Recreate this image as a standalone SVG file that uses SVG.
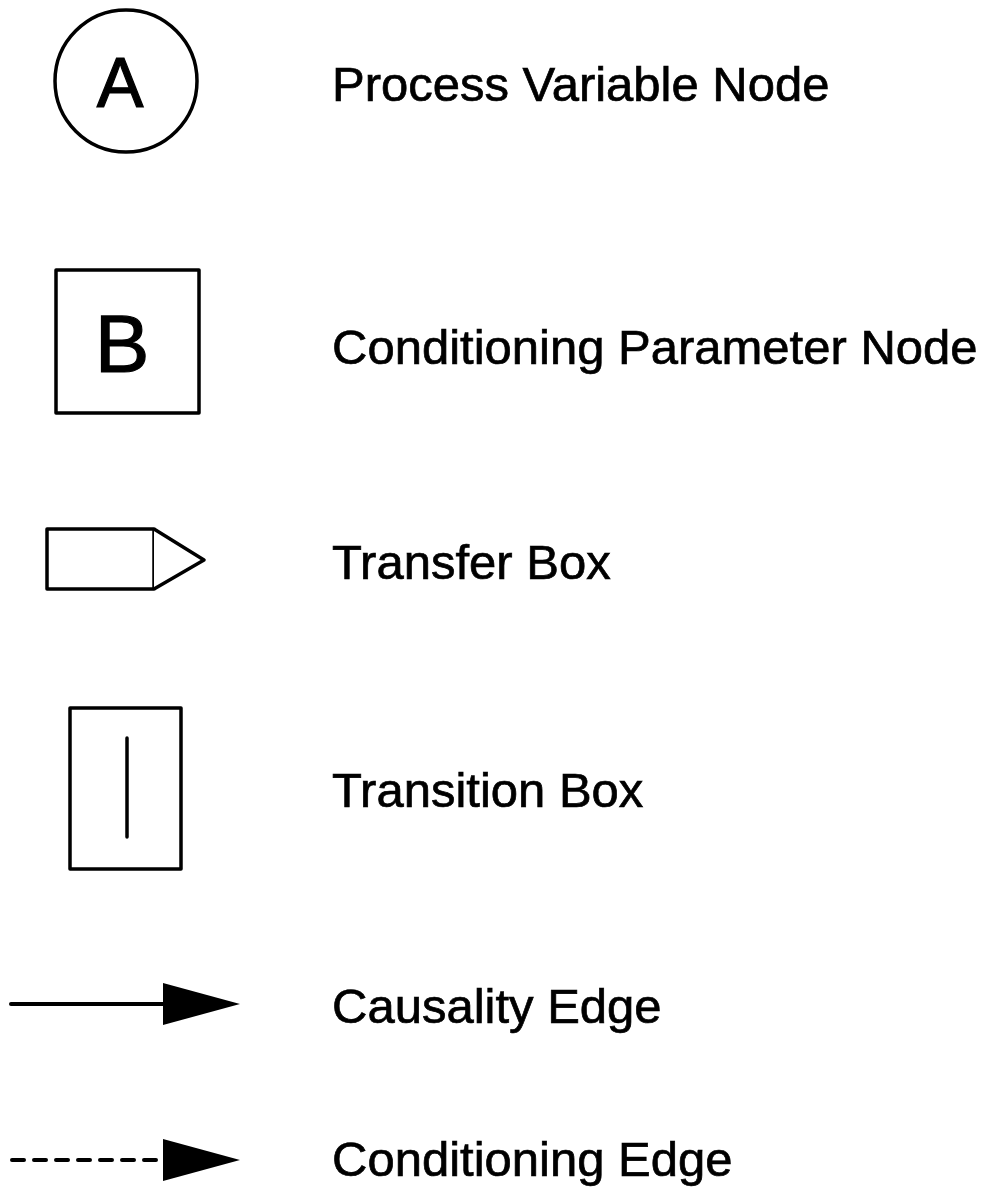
<svg xmlns="http://www.w3.org/2000/svg" width="986" height="1190" viewBox="0 0 986 1190">
  <style>
    .shape { fill: #fff; stroke: #000; stroke-width: 3.5; stroke-linejoin: round; }
    .label { font-family: "Liberation Sans", Arial, sans-serif; font-size: 49px; fill: #000; stroke: #000; stroke-width: 0.7; }
    .glyph { font-family: "Liberation Sans", Arial, sans-serif; fill: #000; stroke: #000; stroke-width: 1.2; text-anchor: middle; }
    .edge { stroke: #000; stroke-width: 4; stroke-linecap: round; fill: none; }
    .dashed { stroke-dasharray: 12 10; }
  </style>
  <defs>
    <marker id="head" markerUnits="userSpaceOnUse" markerWidth="80" markerHeight="44" refX="0" refY="21" orient="auto">
      <polygon points="0,0 77,21 0,42" fill="#000"/>
    </marker>
  </defs>

  <!-- Legend symbols -->
  <g id="process-variable-node">
    <circle class="shape" cx="126" cy="81" r="71"/>
    <text class="glyph" x="120" y="107" font-size="70">A</text>
  </g>

  <g id="conditioning-parameter-node">
    <rect class="shape" x="56" y="270" width="143" height="143"/>
    <text class="glyph" x="122" y="372" font-size="82">B</text>
  </g>

  <g id="transfer-box">
    <rect class="shape" x="47" y="529" width="107" height="60"/>
    <polyline class="shape" points="154,529 204,560 154,589"/>
  </g>

  <g id="transition-box">
    <rect class="shape" x="70" y="708" width="111" height="161"/>
    <line x1="127" y1="738" x2="127" y2="837" stroke="#000" stroke-width="3.5" stroke-linecap="round"/>
  </g>

  <!-- Edge samples -->
  <g id="connectors">
    <line id="causality-edge" class="edge" x1="11" y1="1004" x2="163" y2="1004" marker-end="url(#head)"/>
    <line id="conditioning-edge" class="edge dashed" x1="12" y1="1160" x2="163" y2="1160" marker-end="url(#head)"/>
  </g>

  <!-- Legend captions -->
  <g id="labels">
    <text class="label" x="332" y="101">Process Variable Node</text>
    <text class="label" x="332" y="364">Conditioning Parameter Node</text>
    <text class="label" x="332" y="579">Transfer Box</text>
    <text class="label" x="332" y="807">Transition Box</text>
    <text class="label" x="332" y="1023">Causality Edge</text>
    <text class="label" x="332" y="1176">Conditioning Edge</text>
  </g>
</svg>
